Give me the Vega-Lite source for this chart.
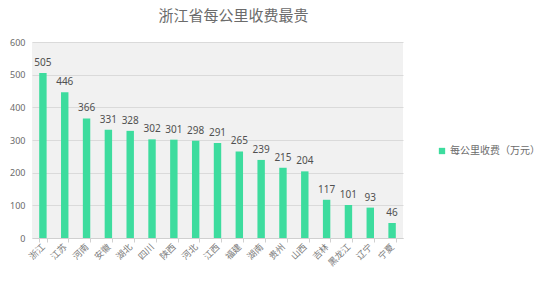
{
  "$schema": "https://vega.github.io/schema/vega-lite/v6.json",
  "autosize": "none",
  "width": 371,
  "height": 196,
  "padding": {"left": 32, "top": 42, "right": 147, "bottom": 44},
  "background": "#ffffff",
  "title": {
    "text": "浙江省每公里收费最贵",
    "font": "Noto Sans CJK SC",
    "fontSize": 15,
    "fontWeight": "normal",
    "color": "#6b6b6b",
    "anchor": "middle",
    "dx": 16,
    "offset": 14
  },
  "data": {
    "values": [
      {"province": "浙江", "fee": 505},
      {"province": "江苏", "fee": 446},
      {"province": "河南", "fee": 366},
      {"province": "安徽", "fee": 331},
      {"province": "湖北", "fee": 328},
      {"province": "四川", "fee": 302},
      {"province": "陕西", "fee": 301},
      {"province": "河北", "fee": 298},
      {"province": "江西", "fee": 291},
      {"province": "福建", "fee": 265},
      {"province": "湖南", "fee": 239},
      {"province": "贵州", "fee": 215},
      {"province": "山西", "fee": 204},
      {"province": "吉林", "fee": 117},
      {"province": "黑龙江", "fee": 101},
      {"province": "辽宁", "fee": 93},
      {"province": "宁夏", "fee": 46}
    ]
  },
  "encoding": {
    "x": {
      "field": "province",
      "type": "nominal",
      "sort": null,
      "scale": {"paddingInner": 0.66, "paddingOuter": 0.33},
      "axis": {
        "title": null,
        "labelAngle": -45,
        "labelAlign": "right",
        "labelBaseline": "middle",
        "labelFont": "Noto Sans CJK SC",
        "labelFontSize": 9,
        "labelColor": "#7a7a7a",
        "labelPadding": 3,
        "domainColor": "#d0d0d0",
        "tickColor": "#d0d0d0",
        "tickSize": 4,
        "tickBand": "extent",
        "grid": false
      }
    },
    "y": {
      "field": "fee",
      "type": "quantitative",
      "scale": {"domain": [0, 600]},
      "axis": {
        "title": null,
        "values": [0, 100, 200, 300, 400, 500, 600],
        "labelFont": "Noto Sans",
        "labelFontSize": 9,
        "labelColor": "#6b6b6b",
        "labelPadding": 7,
        "domain": false,
        "ticks": false,
        "gridColor": "#dadada",
        "gridWidth": 1
      }
    }
  },
  "layer": [
    {
      "mark": {"type": "bar", "color": "#3ddc9e"},
      "encoding": {
        "color": {
          "datum": "每公里收费（万元）",
          "scale": {"range": ["#3ddc9e"]},
          "legend": {
            "title": null,
            "orient": "none",
            "legendX": 405,
            "legendY": 104,
            "symbolType": "square",
            "symbolSize": 40,
            "labelFont": "Noto Sans CJK SC",
            "labelFontSize": 10,
            "labelColor": "#6b6b6b",
            "labelOffset": 3
          }
        }
      }
    },
    {
      "mark": {
        "type": "text",
        "baseline": "bottom",
        "dy": -5,
        "font": "Noto Sans",
        "fontSize": 10,
        "color": "#505050"
      },
      "encoding": {"text": {"field": "fee", "type": "quantitative"}}
    }
  ],
  "config": {
    "view": {"fill": "#f1f1f1", "stroke": null}
  }
}
